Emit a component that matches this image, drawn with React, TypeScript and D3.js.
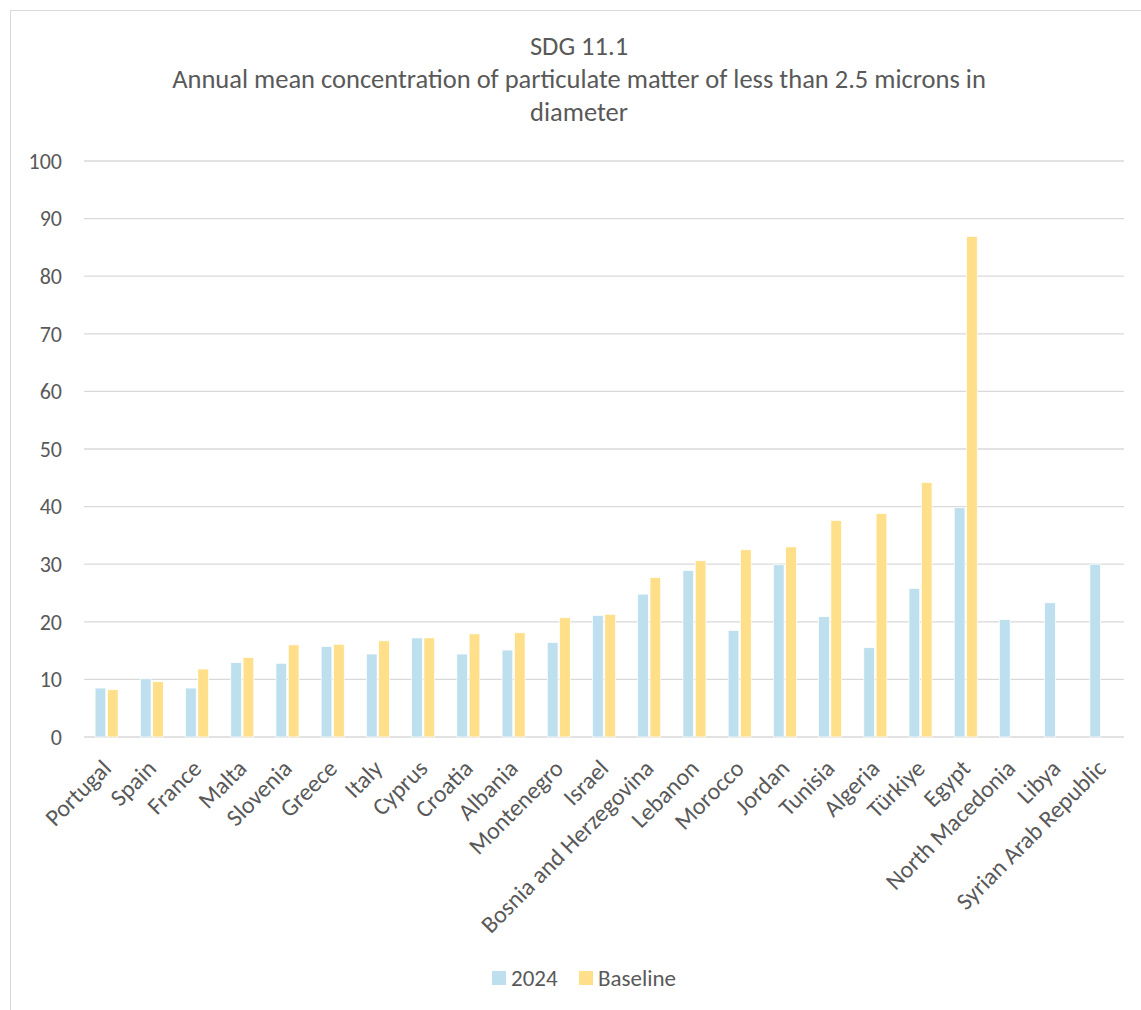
import React from 'react';
import * as d3 from 'd3';

const categories = ['Portugal','Spain','France','Malta','Slovenia','Greece','Italy','Cyprus','Croatia','Albania','Montenegro','Israel','Bosnia and Herzegovina','Lebanon','Morocco','Jordan','Tunisia','Algeria','Türkiye','Egypt','North Macedonia','Libya','Syrian Arab Republic'];
const values2024 = [8.5,10.1,8.5,12.9,12.8,15.7,14.4,17.2,14.4,15.1,16.4,21.1,24.8,28.9,18.5,29.9,20.9,15.5,25.8,39.8,20.4,23.3,30.0];
const valuesBaseline: (number|null)[] = [8.2,9.6,11.8,13.8,16.0,16.1,16.7,17.2,17.9,18.1,20.7,21.3,27.7,30.6,32.5,33.0,37.6,38.8,44.2,86.9,null,null,null];
const seriesNames = ['2024','Baseline'];
const seriesColors = ['#bddfee','#ffdf8a'];
const yTicks = [0,10,20,30,40,50,60,70,80,90,100];
const titleLines = ['SDG 11.1','Annual mean concentration of particulate matter of less than 2.5 microns in','diameter'];

const FONT = 'Carlito, Calibri, Lato, sans-serif';

export default function App() {
  const W = 1141, H = 1010;
  const left = 84, right = 1124, top = 161, bottom = 737;
  const x = d3.scaleBand<string>().domain(categories).range([left, right]).paddingInner(0).paddingOuter(0);
  const bw = x.bandwidth();
  const x1 = d3.scaleBand<string>().domain(seriesNames).range([bw / 2 - 11.5, bw / 2 + 11.5]).paddingInner(0.13);
  const y = d3.scaleLinear().domain([0, 100]).range([bottom, top]);
  const data = [values2024, valuesBaseline];

  return (
    <svg width={W} height={H} style={{ position: 'absolute', left: 0, top: 0, background: '#fff' }} fontFamily={FONT}>
      <rect x={10.5} y={10.5} width={W + 20} height={H + 20} fill="#fff" stroke="#d9d9d9" strokeWidth={1} />
      {titleLines.map((t, i) => (
        <text key={i} x={579} y={55 + i * 33} textAnchor="middle" fontSize={26.5} fill="#595959">{t}</text>
      ))}
      {yTicks.map(t => (
        <g key={t}>
          <line x1={left} x2={right} y1={y(t)} y2={y(t)} stroke="#d9d9d9" strokeWidth={1.3} />
          <text x={62} y={y(t)} dy="0.35em" textAnchor="end" fontSize={22} fill="#595959">{t}</text>
        </g>
      ))}
      {data.map((vals, si) => (
        <g key={si}>
          {categories.map((c, i) => {
            const v = vals[i];
            if (v == null) return null;
            const bx = (x(c) as number) + (x1(seriesNames[si]) as number);
            return (
              <rect key={c} x={bx} y={y(v)} width={x1.bandwidth()} height={y(0) - y(v)}
                fill={seriesColors[si]} stroke="#fff" strokeWidth={0.7} />
            );
          })}
        </g>
      ))}
      {categories.map(c => {
        const cx = (x(c) as number) + bw / 2;
        const cy = 764;
        return (
          <text key={c} x={cx} y={cy} transform={`rotate(-45 ${cx} ${cy})`} textAnchor="end" dy="0.35em" fontSize={24} fill="#595959">{c}</text>
        );
      })}
      <g>
        <rect x={492} y={971} width={14} height={14} fill={seriesColors[0]} />
        <text x={511} y={978} dy="0.35em" fontSize={23} fill="#595959">{seriesNames[0]}</text>
        <rect x={579} y={971} width={14} height={14} fill={seriesColors[1]} />
        <text x={598} y={978} dy="0.35em" fontSize={23} fill="#595959">{seriesNames[1]}</text>
      </g>
    </svg>
  );
}
